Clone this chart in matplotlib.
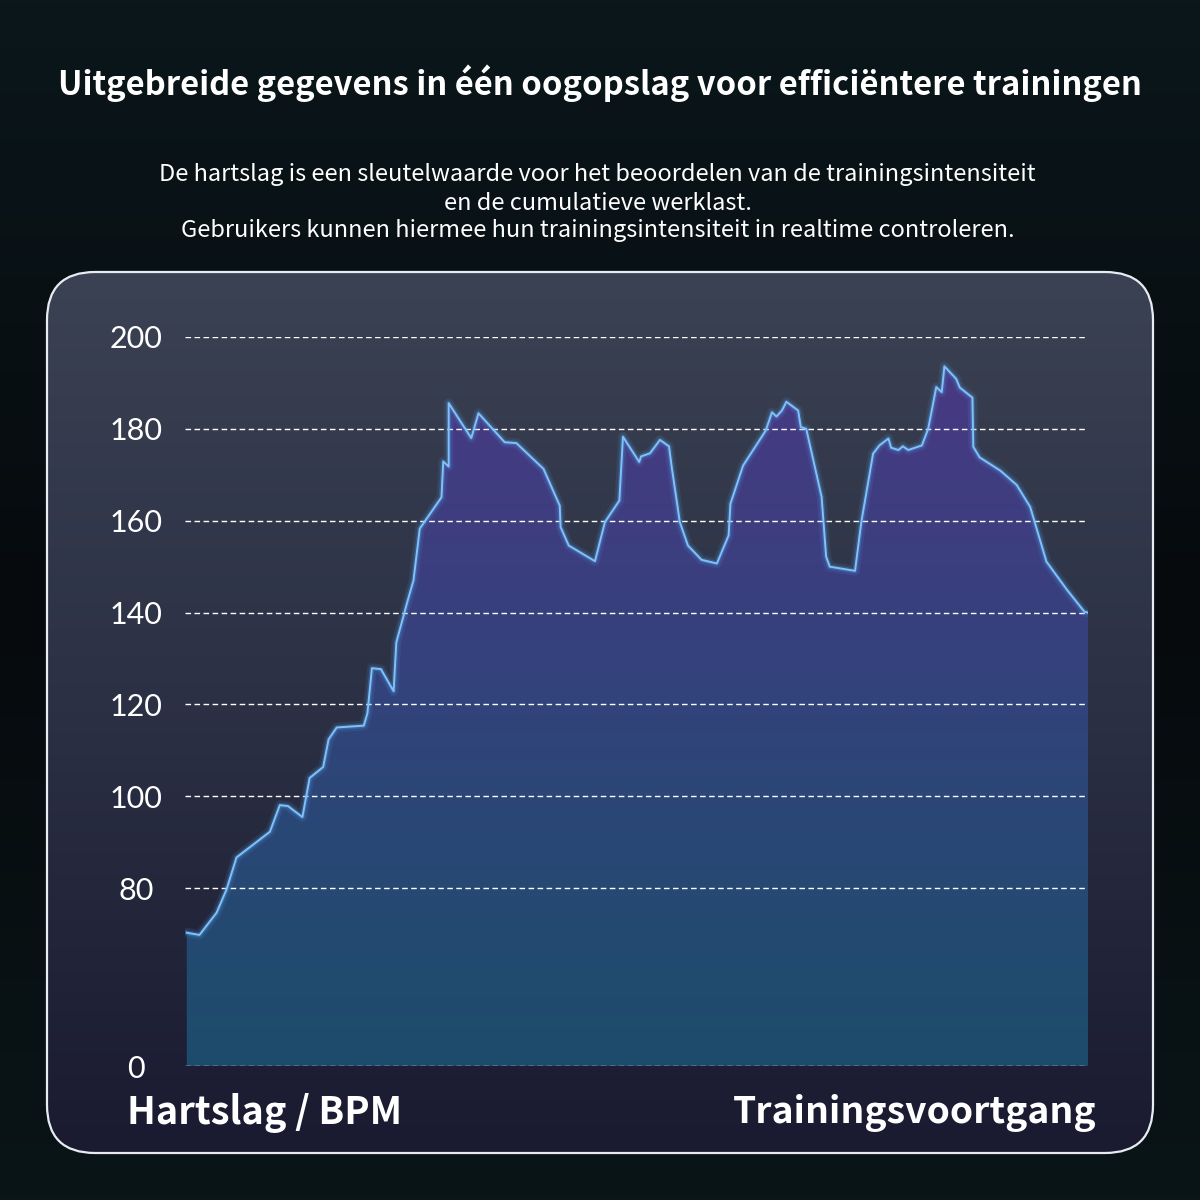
import numpy as np
import matplotlib.pyplot as plt
from matplotlib.patches import FancyBboxPatch
from matplotlib.colors import LinearSegmentedColormap

# trainingsvoortgang (0-100) en hartslag (BPM)
progress = [0.2, 1.6, 3.5, 4.6, 5.7, 9.4, 10.5, 11.4, 13.0, 13.8, 15.3, 15.9, 16.8,
            19.8, 20.2, 20.7, 21.7, 23.1, 23.4, 24.6, 25.3, 26.0, 28.4, 28.6, 29.2,
            29.2, 31.7, 32.5, 35.4, 36.7, 39.7, 41.5, 41.6, 42.5, 45.4, 46.5, 48.1,
            48.5, 50.3, 50.5, 51.5, 52.6, 53.6, 53.9, 54.8, 55.7, 57.2, 58.9, 60.2,
            60.4, 61.8, 64.3, 65.0, 65.5, 66.1, 66.6, 67.9, 68.2, 68.8, 70.5, 71.0,
            71.4, 74.2, 74.9, 76.2, 76.9, 77.9, 78.2, 79.0, 79.5, 80.1, 81.6, 82.3,
            83.2, 83.8, 84.1, 85.4, 85.8, 87.2, 87.3, 88.0, 90.3, 92.1, 93.6, 95.4,
            97.7, 99.6, 100.0]
bpm = [60, 59, 69, 79.5, 86.7, 92.3, 98.1, 97.9, 95.5, 104.0, 106.4, 112.4, 115.0,
       115.4, 118.1, 127.9, 127.7, 122.9, 133.5, 142.2, 147.0, 158.3, 165.1, 172.9, 171.8,
       185.6, 178.0, 183.4, 177.1, 176.9, 171.3, 163.3, 158.6, 154.6, 151.2, 159.7, 164.4,
       178.3, 172.8, 174.0, 174.7, 177.6, 176.2, 171.7, 159.7, 154.6, 151.5, 150.7, 156.8,
       163.7, 172.0, 179.6, 183.6, 182.7, 184.0, 185.9, 184.0, 180.4, 180.0, 165.2, 152.2,
       150.0, 149.1, 159.8, 174.6, 176.4, 177.9, 175.9, 175.4, 176.2, 175.4, 176.4, 180.0,
       189.1, 188.0, 193.6, 190.9, 189.0, 186.8, 176.1, 173.8, 170.9, 167.8, 163.0, 151.1,
       144.9, 140.2, 140.0]
yticks = [0, 80, 100, 120, 140, 160, 180, 200]

title = "Uitgebreide gegevens in één oogopslag voor efficiëntere trainingen"
subtitle = ["De hartslag is een sleutelwaarde voor het beoordelen van de trainingsintensiteit",
            "en de cumulatieve werklast.",
            "Gebruikers kunnen hiermee hun trainingsintensiteit in realtime controleren."]

plt.rcParams['font.family'] = ['Noto Sans CJK SC', 'DejaVu Sans']

fig = plt.figure(figsize=(12, 12), dpi=100)
fig.patch.set_facecolor('#070c10')

# achtergrond in pixelcoördinaten
bg = fig.add_axes([0, 0, 1, 1])
bg.set_xlim(0, 1200)
bg.set_ylim(1200, 0)
bg.axis('off')

bg_cmap = LinearSegmentedColormap.from_list('bg', ['#0b171b', '#060a0d', '#0a1517'])
bg.imshow(np.linspace(0, 1, 256).reshape(-1, 1), cmap=bg_cmap, aspect='auto',
          extent=[0, 1200, 1200, 0], zorder=0)

panel = FancyBboxPatch((47, 272), 1106, 881, boxstyle="round,pad=0,rounding_size=48",
                       facecolor='none', edgecolor='#e8ecf2', linewidth=1.6, zorder=3)
bg.add_patch(panel)
panel_cmap = LinearSegmentedColormap.from_list('panel', ['#3b4253', '#2b3044', '#1a1a31'])
im = bg.imshow(np.linspace(0, 1, 256).reshape(-1, 1), cmap=panel_cmap, aspect='auto',
               extent=[47, 1153, 1153, 272], zorder=1)
im.set_clip_path(panel)

# y-as: 0-80 samengedrukt, daarboven lineair
k = 178 / 92


def forward(v):
    v = np.asarray(v, dtype=float)
    return np.where(v < 80, v / 80 * k, k + (v - 80) / 20)


def inverse(t):
    t = np.asarray(t, dtype=float)
    return np.where(t < k, t / k * 80, 80 + (t - k) * 20)


ax = fig.add_axes([185 / 1200, 1 - 1066 / 1200, 903 / 1200, 729 / 1200])
ax.set_facecolor('none')
ax.set_yscale('function', functions=(forward, inverse))

area = ax.fill_between(progress, 0, bpm, color='none', lw=0)
fill_cmap = LinearSegmentedColormap.from_list('fill', ['#4a3884', '#3a3f7f', '#2a4776', '#1d4c6b'])
fim = ax.imshow(np.linspace(0, 1, 256).reshape(-1, 1), cmap=fill_cmap, aspect='auto',
                extent=[0, 1, 0, 1], transform=ax.transAxes, zorder=1)
fim.set_clip_path(area.get_paths()[0], ax.transData)

# lijn met gloed
ax.plot(progress, bpm, color='#4f9ff0', lw=7, alpha=0.12, zorder=3)
ax.plot(progress, bpm, color='#5eaaf2', lw=3.5, alpha=0.25, zorder=3)
ax.plot(progress, bpm, color='#7fc2fb', lw=1.4, zorder=3)

ax.set_xlim(0, 100)
ax.set_ylim(0, 200)
ax.set_yticks(yticks)
ax.set_yticklabels([str(t) for t in yticks])
ax.set_xticks([])
ax.yaxis.grid(True, color='white', linestyle=(0, (4, 2.5)), linewidth=1.0)
ax.set_axisbelow(False)
ax.tick_params(axis='y', length=0, pad=35, labelsize=22, labelcolor='white')
for lbl in ax.get_yticklabels():
    lbl.set_ha('center')
    lbl.set_family('Lato')
    lbl.set_fontweight('normal')
for s in ax.spines.values():
    s.set_visible(False)

# teksten
fig.text(0.5, 1 - 83 / 1200, title, ha='center', va='center', color='white',
         fontsize=23.6, fontweight='bold')
for i, line in enumerate(subtitle):
    fig.text(0.498, 1 - (175 + 28 * i) / 1200, line, ha='center', va='center',
             color='white', fontsize=17.0, fontweight='medium')

fig.text(127 / 1200, 1 - 1113 / 1200, "Hartslag / BPM", ha='left', va='center',
         color='white', fontsize=27.3, fontweight='bold')
fig.text(1097 / 1200, 1 - 1113 / 1200, "Trainingsvoortgang", ha='right', va='center',
         color='white', fontsize=26.8, fontweight='bold')

fig.savefig('out.png', dpi=100, facecolor=fig.get_facecolor())
